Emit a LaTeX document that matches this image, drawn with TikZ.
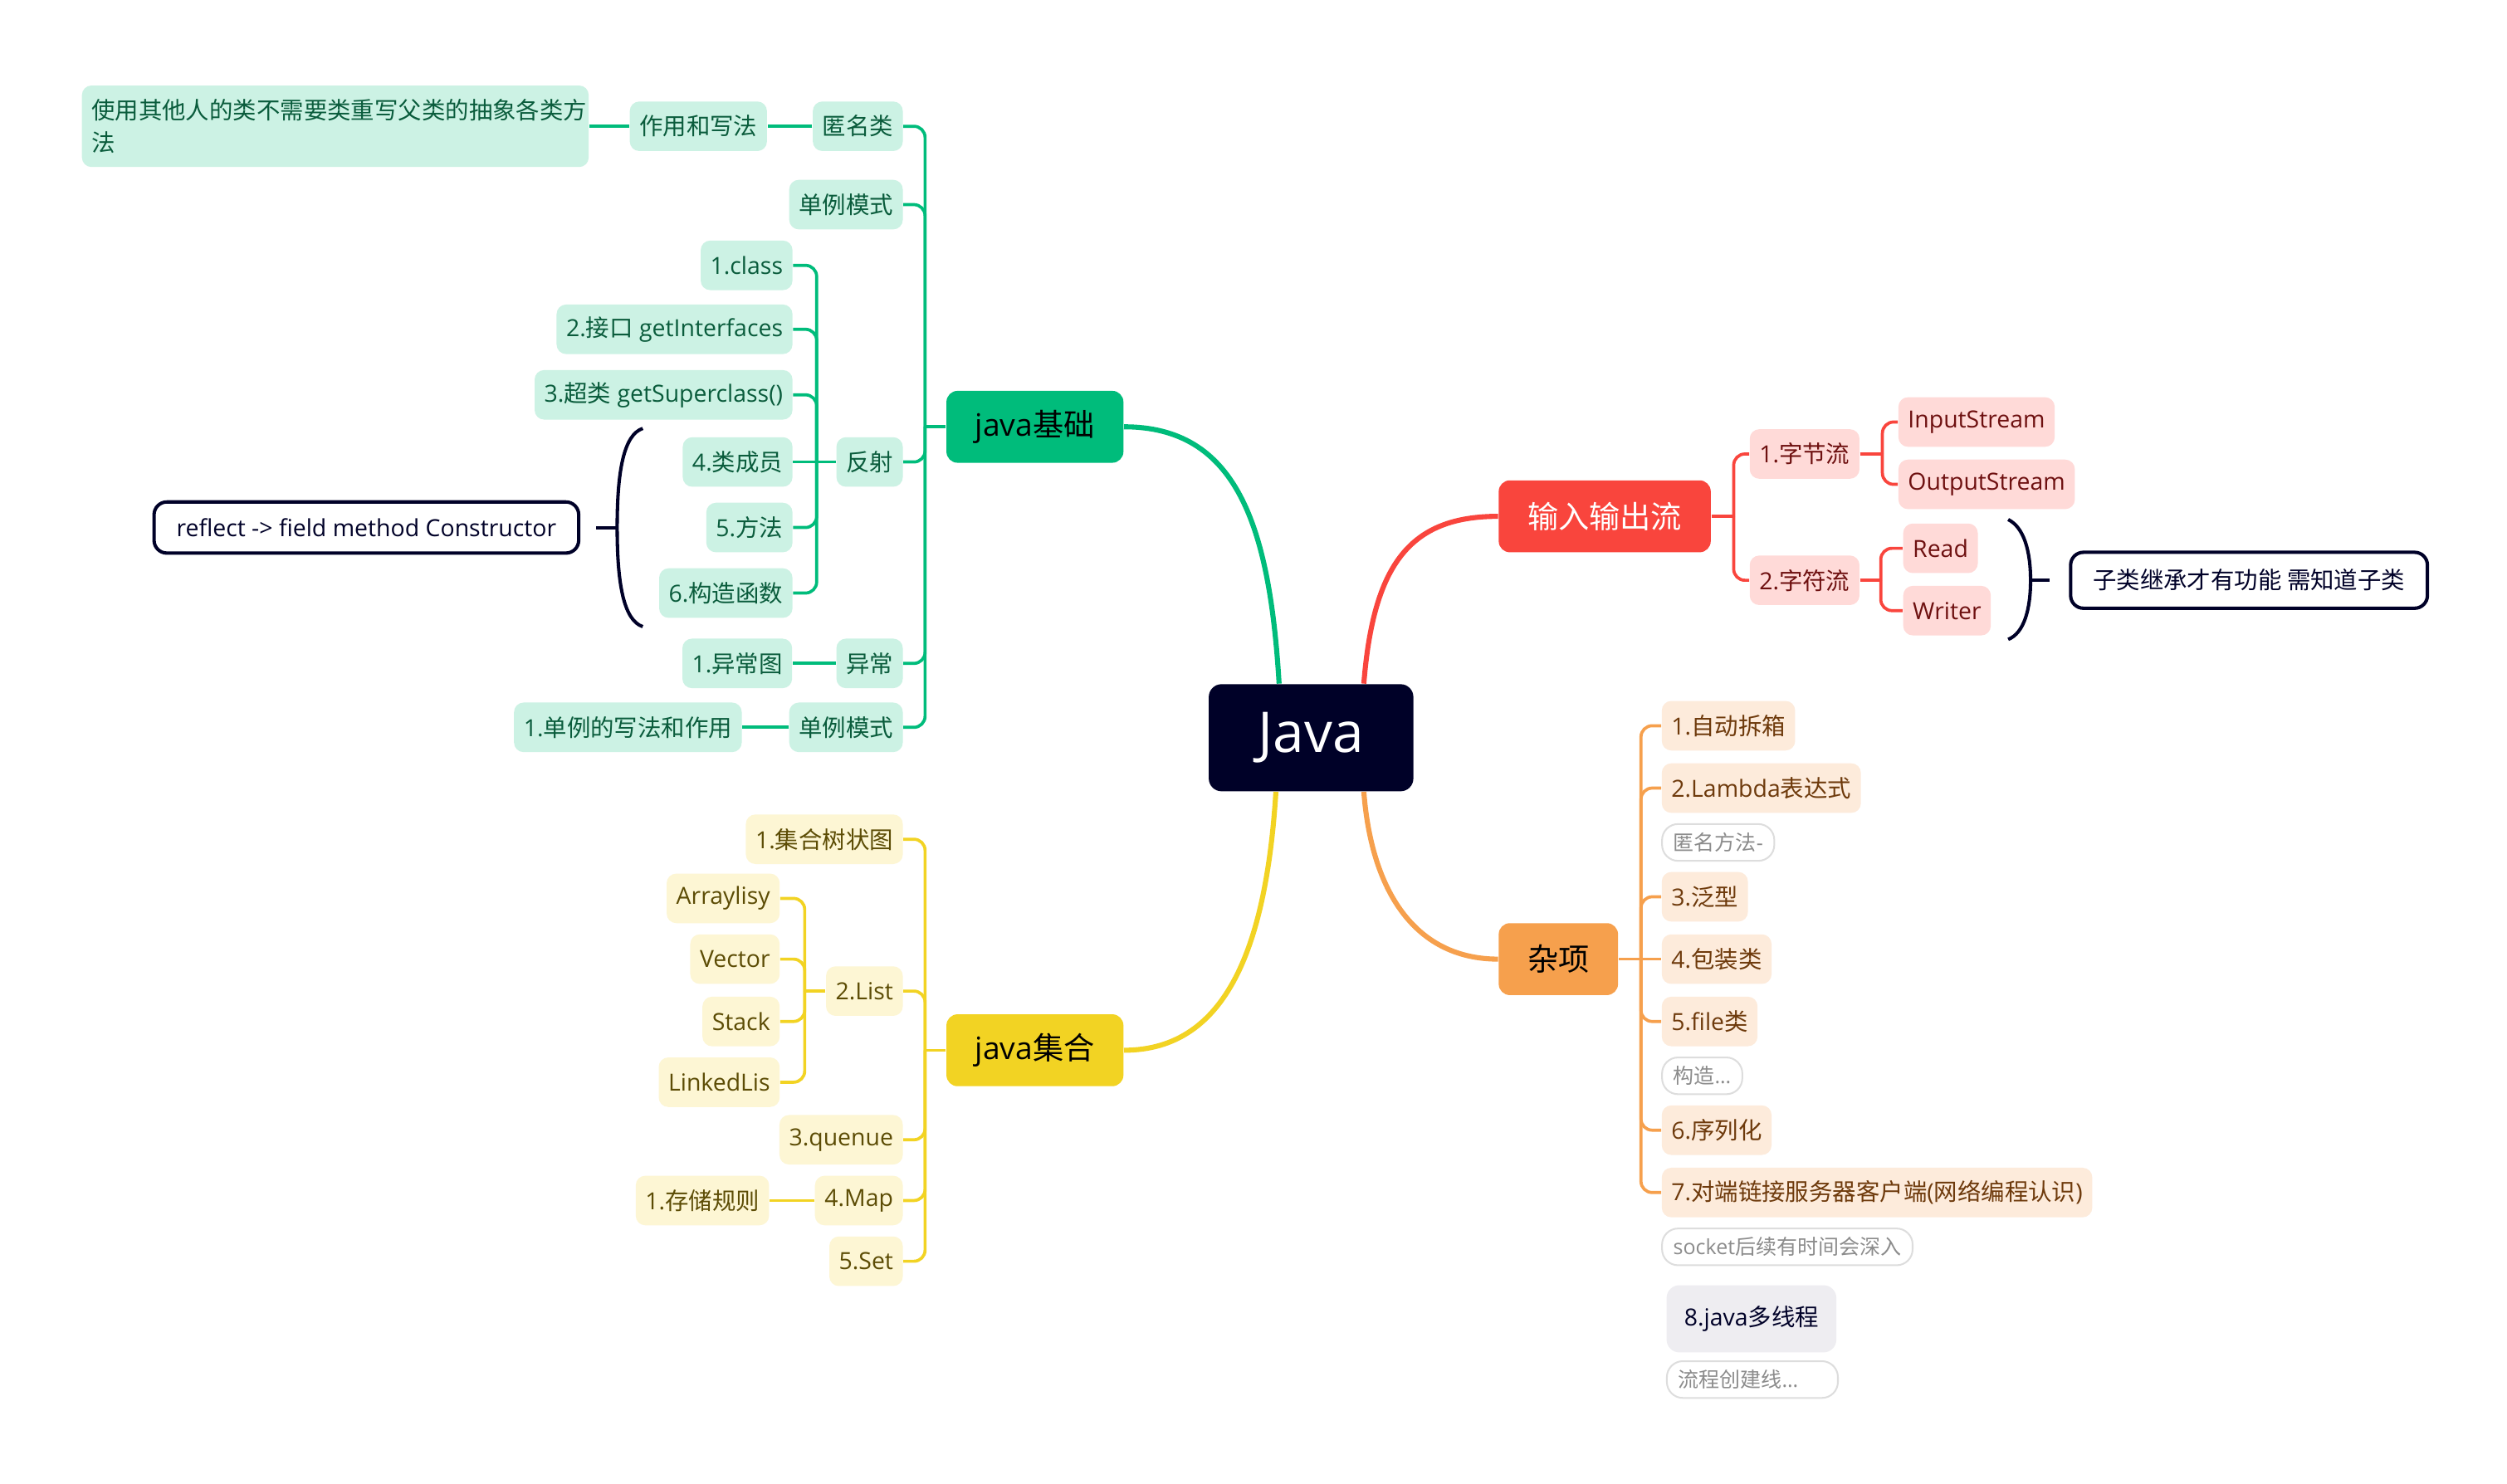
\documentclass[tikz,border=0pt]{standalone}
\usepackage{fontspec}
\usepackage{tikz}
\usepackage{xcolor}
\usetikzlibrary{positioning}
\setmainfont{Open Sans}
\newfontfamily\cjk{Noto Sans CJK SC}
\newcommand{\hanzi}[1]{{\cjk #1}}

\definecolor{navy}{HTML}{000128}
\definecolor{jbMain}{HTML}{00BC7B}
\definecolor{jbLight}{HTML}{CCF2E4}
\definecolor{jbText}{HTML}{0A5C3C}
\definecolor{ioMain}{HTML}{F9453D}
\definecolor{ioLight}{HTML}{FFDAD8}
\definecolor{ioText}{HTML}{6E1010}
\definecolor{jcMain}{HTML}{F2D323}
\definecolor{jcLight}{HTML}{FDF6D4}
\definecolor{jcText}{HTML}{5C4C05}
\definecolor{zxMain}{HTML}{F6A04D}
\definecolor{zxLight}{HTML}{FDEBDB}
\definecolor{zxText}{HTML}{6E3A0C}
\definecolor{noteGray}{HTML}{8C8C8C}
\definecolor{noteLine}{HTML}{DDDDDD}
\definecolor{mtFill}{HTML}{EEEDF1}

\tikzset{
  root/.style={fill=navy, text=white, rounded corners=0.16cm, minimum width=2.56cm, minimum height=1.34cm, font=\fontsize{20}{24}\selectfont},
  topic/.style={rounded corners=0.14cm, inner xsep=0.36cm, minimum height=0.9cm, font=\fontsize{11}{13}\selectfont},
  leaf/.style={rounded corners=0.12cm, inner xsep=0.12cm, inner ysep=0pt, minimum height=0.62cm, font=\fontsize{8.4}{11.4}\selectfont},
  note/.style={draw=noteLine, line width=0.6pt, rounded corners=0.2cm, inner xsep=0.14cm, inner ysep=0pt, minimum height=0.46cm, text=noteGray, font=\fontsize{7.4}{9}\selectfont},
  remark/.style={draw=navy, line width=1.2pt, rounded corners=0.16cm, inner xsep=0.28cm, text=navy, font=\fontsize{8.4}{10}\selectfont},
  jbleaf/.style={leaf, fill=jbLight, text=jbText},
  ioleaf/.style={leaf, fill=ioLight, text=ioText},
  jcleaf/.style={leaf, fill=jcLight, text=jcText},
  zxleaf/.style={leaf, fill=zxLight, text=zxText},
  jbmain/.style={draw=jbMain, line width=1.8pt},
  iomain/.style={draw=ioMain, line width=1.8pt},
  jcmain/.style={draw=jcMain, line width=1.8pt},
  zxmain/.style={draw=zxMain, line width=1.8pt},
  jbline/.style={draw=jbMain, line width=1.1pt, rounded corners=0.14cm},
  ioline/.style={draw=ioMain, line width=1.1pt, rounded corners=0.14cm},
  jcline/.style={draw=jcMain, line width=1.1pt, rounded corners=0.14cm},
  zxline/.style={draw=zxMain, line width=1.1pt, rounded corners=0.14cm},
  bracket/.style={draw=navy, line width=1.2pt}
}

\begin{document}
\begin{tikzpicture}[x=0.02cm, y=-0.02cm]
\fill[white] (0,0) rectangle (1568,928);
\useasboundingbox (0,0) rectangle (1568,928);

% Root and main topics
\node[root] (java) at (820,461.5) {Java};
\node[topic, fill=jbMain, anchor=east] (jb) at (703,267) {java\hanzi{基础}};
\node[topic, fill=ioMain, text=white, anchor=west] (io) at (937,323) {\hanzi{输入输出流}};
\node[topic, fill=jcMain, anchor=east] (jc) at (703,657) {java\hanzi{集合}};
\node[topic, fill=zxMain, anchor=west] (zx) at (937,600) {\hanzi{杂项}};

% Main branches
\draw[jbmain] ([xshift=-0.4cm]java.north) .. controls +(-6,-100) and +(70,0) .. (jb.east);
\draw[iomain] ([xshift=0.66cm]java.north) .. controls +(6,-75) and +(-55,0) .. (io.west);
\draw[jcmain] ([xshift=-0.44cm]java.south) .. controls +(-6,95) and +(65,0) .. (jc.east);
\draw[zxmain] ([xshift=0.66cm]java.south) .. controls +(5,65) and +(-50,0) .. (zx.west);

% java basics
\foreach \n/\y/\t in {nm/79/匿名类, dl1/128/单例模式, fs/289/反射, yc/415/异常, dl2/455/单例模式}
  \node[jbleaf, anchor=east] (\n) at (565,\y) {\hanzi{\t}};
\node[jbleaf, left=0.56cm of nm] (zy) {\hanzi{作用和写法}};
\node[jbleaf, left=0.5cm of zy, text width=6.1cm, align=left, minimum height=1.02cm] (sy) {\hanzi{使用其他人的类不需要类重写父类的抽象各类方}\\\hanzi{法}};
\foreach \n/\y/\t in {fs1/166/{1.class}, fs2/206/{2.\hanzi{接口} getInterfaces}, fs3/247/{3.\hanzi{超类} getSuperclass()}, fs4/289/{4.\hanzi{类成员}}, fs5/330/{5.\hanzi{方法}}, fs6/371/{6.\hanzi{构造函数}}}
  \node[jbleaf, anchor=east] (\n) at (496,\y) {\t};
\node[jbleaf, left=0.54cm of yc] (yc1) {1.\hanzi{异常图}};
\node[jbleaf, left=0.58cm of dl2] (dl21) {1.\hanzi{单例的写法和作用}};
\node[remark, anchor=east, minimum height=0.64cm] (rf) at (363,330) {reflect -> field method Constructor};

\coordinate (jbT) at ([xshift=-0.26cm]jb.west);
\coordinate (fsT) at ([xshift=-0.24cm]fs.west);
\draw[jbline] (jb.west) -- (jbT);
\foreach \n in {nm,dl1,fs,yc,dl2}
  \draw[jbline] (jbT) |- (\n.east);
\foreach \n in {fs1,fs2,fs3,fs5,fs6}
  \draw[jbline] (fsT) |- (\n.east);
\draw[jbline] (fs.west) -- (fs4.east);
\draw[jbline] (nm.west) -- (zy.east);
\draw[jbline] (zy.west) -- (sy.east);
\draw[jbline] (yc.west) -- (yc1.east);
\draw[jbline] (dl2.west) -- (dl21.east);

% bracket round 4 to 6
\coordinate (brL) at (386,330);
\draw[bracket] (402,268) .. controls (390,272) and (386,295) .. (brL) .. controls (386,365) and (390,388) .. (402,392);
\draw[bracket] (brL) -- ([xshift=0.2cm]rf.east);

% input and output streams
\node[ioleaf, anchor=west] (zj) at (1094,284) {1.\hanzi{字节流}};
\node[ioleaf, anchor=west] (zf) at (1094,363) {2.\hanzi{字符流}};
\node[ioleaf, anchor=west] (ins) at (1187,264) {InputStream};
\node[ioleaf, anchor=west] (outs) at (1187,303) {OutputStream};
\node[ioleaf, anchor=west] (rd) at (1190,343) {Read};
\node[ioleaf, anchor=west] (wr) at (1190,382) {Writer};
\node[remark, anchor=west, minimum height=0.7cm] (zl) at (1294,363) {\hanzi{子类继承才有功能 需知道子类}};

\coordinate (ioT) at ([xshift=0.28cm]io.east);
\coordinate (zjT) at ([xshift=0.28cm]zj.east);
\coordinate (zfT) at ([xshift=0.26cm]zf.east);
\draw[ioline] (io.east) -- (ioT);
\foreach \n in {zj,zf}
  \draw[ioline] (ioT) |- (\n.west);
\draw[ioline] (zj.east) -- (zjT);
\foreach \n in {ins,outs}
  \draw[ioline] (zjT) |- (\n.west);
\draw[ioline] (zf.east) -- (zfT);
\foreach \n in {rd,wr}
  \draw[ioline] (zfT) |- (\n.west);

% bracket round Read and Writer
\coordinate (brR) at (1270,363);
\draw[bracket] (1256,325) .. controls (1266,330) and (1270,345) .. (brR) .. controls (1270,381) and (1266,396) .. (1256,400);
\draw[bracket] (brR) -- ([xshift=-0.24cm]zl.west);

% java collections
\foreach \n/\y/\t in {y1/525/{1.\hanzi{集合树状图}}, y2/620/{2.List}, y3/713/{3.quenue}, y4/751/{4.Map}, y5/789/{5.Set}}
  \node[jcleaf, anchor=east] (\n) at (565,\y) {\t};
\foreach \n/\y/\t in {l1/562/Arraylisy, l2/600/Vector, l3/639/Stack, l4/677/LinkedLis}
  \node[jcleaf, anchor=east] (\n) at (488,\y) {\t};
\node[jcleaf, left=0.56cm of y4] (y41) {1.\hanzi{存储规则}};

\coordinate (jcT) at ([xshift=-0.26cm]jc.west);
\coordinate (y2T) at ([xshift=-0.26cm]y2.west);
\draw[jcline] (jc.west) -- (jcT);
\foreach \n in {y1,y2,y3,y4,y5}
  \draw[jcline] (jcT) |- (\n.east);
\draw[jcline] (y2.west) -- (y2T);
\foreach \n in {l1,l2,l3,l4}
  \draw[jcline] (y2T) |- (\n.east);
\draw[jcline] (y4.west) -- (y41.east);

% miscellaneous
\foreach \n/\y/\t in {z1/454/{1.\hanzi{自动拆箱}}, z2/493/{2.Lambda\hanzi{表达式}}, z3/561/{3.\hanzi{泛型}}, z4/600/{4.\hanzi{包装类}}, z5/639/{5.file\hanzi{类}}, z6/707/{6.\hanzi{序列化}}, z7/746/{7.\hanzi{对端链接服务器客户端}(\hanzi{网络编程认识})}}
  \node[zxleaf, anchor=west] (\n) at (1039,\y) {\t};
\node[note, anchor=west] (n1) at (1039,527) {\hanzi{匿名方法}-};
\node[note, anchor=west] (n2) at (1039,673) {\hanzi{构造}…};
\node[note, anchor=west] (n3) at (1039,780) {socket\hanzi{后续有时间会深入}};
\node[leaf, fill=mtFill, text=navy, anchor=west, inner xsep=0.22cm, minimum height=0.84cm, rounded corners=0.16cm] (z8) at (1042,825) {8.java\hanzi{多线程}};
\node[note, anchor=west, text width=1.86cm, align=left] (n4) at (1042,863) {\hanzi{流程创建线}…};

\coordinate (zxT) at ([xshift=0.28cm]zx.east);
\draw[zxline] (zx.east) -- (z4.west);
\foreach \n in {z1,z2,z3,z5,z6,z7}
  \draw[zxline] (zxT) |- (\n.west);
\end{tikzpicture}
\end{document}
